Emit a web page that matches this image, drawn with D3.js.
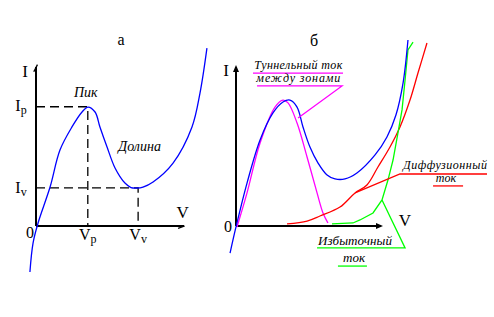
<!DOCTYPE html>
<html lang="ru">
<head>
<meta charset="UTF-8">
<title>ВАХ туннельного диода</title>
<script src="https://d3js.org/d3.v7.min.js"></script>
<style>
    body { margin: 0; background: #fff; }
</style>
</head>
<body>
<svg width="494" height="317"></svg>
<script>
// ---- панель "а": полная ВАХ (V, I в условных единицах) ----
const curveA_V = [-0.41, -0.20, 0.14, 0.95, 1.62, 2.43, 3.11, 3.51, 3.99, 4.32, 4.80, 5.34, 6.01, 6.42, 6.82, 7.23, 7.91, 9.26, 10.54, 11.08, 11.55];
const curveA_I = [-2.89, -1.07, 0.19, 2.45, 4.78, 6.23, 7.17, 7.48, 7.17, 6.23, 4.97, 3.65, 2.70, 2.42, 2.39, 2.45, 2.77, 3.96, 6.23, 8.36, 11.19];
const peak = { V: 3.5, I: 7.5 };
const valley = { V: 6.9, I: 2.4 };

// ---- панель "б": составляющие тока ----
const totalV = [-0.41, 0, 0.76, 1.66, 2.55, 3.24, 3.72, 4.21, 4.62, 5.10, 5.66, 6.28, 6.83, 7.52, 8.34, 9.59, 10.41, 11.03, 11.52, 11.86];
const totalI = [-1.70, -0.06, 2.70, 5.41, 7.11, 7.80, 7.92, 7.48, 6.23, 4.97, 3.96, 3.21, 2.96, 2.96, 3.33, 4.47, 5.60, 6.98, 8.99, 11.70];
const tunnelV = [0.07, 0.76, 1.66, 2.69, 3.24, 3.59, 4.21, 4.90, 5.59, 6.00, 6.34];
const tunnelI = [-0.06, 2.08, 5.22, 7.48, 7.92, 7.74, 6.48, 4.34, 2.08, 0.82, 0.19];
const diffV = [3.52, 4.90, 5.79, 7.17, 8.21, 9.03, 9.79, 10.62, 11.31, 12.0, 12.55, 13.17];
const diffI = [0.13, 0.31, 0.63, 1.19, 2.08, 2.58, 3.71, 4.97, 6.23, 7.92, 9.62, 11.51];
const excessV = [6.62, 8.07, 8.55, 9.45, 10.07, 10.48, 10.83, 11.17, 11.45, 11.66, 11.86, 12.21];
const excessI = [0.13, 0.19, 0.38, 0.82, 1.64, 2.89, 4.15, 5.85, 7.30, 9.18, 11.07, 11.57];

const FONT = "'Liberation Serif', 'DejaVu Serif', 'Times New Roman', serif";
const svg = d3.select("svg");
const zip = (xs, ys) => xs.map((x, i) => [x, ys[i]]);

// шкалы
const xA = d3.scaleLinear().domain([0, 10]).range([36, 184]);
const yA = d3.scaleLinear().domain([0, 10]).range([226, 67]);
const xB = d3.scaleLinear().domain([0, 10]).range([236, 381]);
const yB = d3.scaleLinear().domain([0, 10]).range([226, 67]);

function drawCurve(x, y, pts, color, curve) {
    svg.append("path")
        .attr("d", d3.line().x(d => x(d[0])).y(d => y(d[1])).curve(curve)(pts))
        .attr("fill", "none")
        .attr("stroke", color)
        .attr("stroke-width", 1.3);
}
function seg(x, y, pts, color, extra) {
    const p = svg.append("path")
        .attr("d", d3.line().x(d => x(d[0])).y(d => y(d[1]))(pts))
        .attr("fill", "none")
        .attr("stroke", color)
        .attr("stroke-width", 1.3);
    if (extra) extra(p);
    return p;
}
function label(x, y, txt, italic, size, anchor) {
    return svg.append("text")
        .attr("x", x).attr("y", y)
        .attr("font-family", FONT)
        .attr("font-style", italic ? "italic" : "normal")
        .attr("font-size", size || 15)
        .attr("text-anchor", anchor || "middle")
        .text(txt);
}
function sub(x, y, main, s, anchor) {
    const t = svg.append("text").attr("x", x).attr("y", y)
        .attr("font-family", FONT)
        .attr("font-size", 16).attr("text-anchor", anchor || "middle");
    t.append("tspan").text(main);
    t.append("tspan").attr("font-size", 12).attr("dy", 3).text(s);
    return t;
}

// ===== панель а =====
svg.append("line").attr("x1", xA(0)).attr("x2", xA(10)).attr("y1", yA(0)).attr("y2", yA(0))
    .attr("stroke", "#000").attr("stroke-width", 2);
svg.append("line").attr("x1", xA(0)).attr("x2", xA(0)).attr("y1", yA(0)).attr("y2", yA(10))
    .attr("stroke", "#000").attr("stroke-width", 2);
seg(xA, yA, [[-0.15, 9.7], [0.1, 10.15]], "#000");
seg(xA, yA, [[9.6, -0.15], [10.05, 0]], "#000");

// пунктир
const dash = p => p.attr("stroke-dasharray", "9,5");
seg(xA, yA, [[0, peak.I], [peak.V, peak.I], [peak.V, 0]], "#000", dash);
seg(xA, yA, [[0, valley.I], [valley.V, valley.I], [valley.V, 0]], "#000", dash);

drawCurve(xA, yA, zip(curveA_V, curveA_I), "#0000ff", d3.curveCatmullRom);

label(121, 45, "а", false, 16);
label(xA(0) - 11, 77, "I", false, 17);
label(xA(0) - 6, 238, "0", false, 16);
label(xA(9.9), 218, "V", false, 17);
sub(xA(0) - 15, yA(peak.I) + 4, "I", "p");
sub(xA(0) - 15, yA(valley.I) + 5, "I", "v");
sub(xA(peak.V), 240, "V", "p");
sub(xA(valley.V), 240, "V", "v");
label(xA(peak.V) - 2, 97, "Пик", true, 14);
label(xA(7.0), 151, "Долина", true, 14);

// ===== панель б =====
svg.append("line").attr("x1", xB(0)).attr("x2", xB(10)).attr("y1", yB(0)).attr("y2", yB(0))
    .attr("stroke", "#000").attr("stroke-width", 2);
svg.append("line").attr("x1", xB(0)).attr("x2", xB(0)).attr("y1", yB(0)).attr("y2", yB(10))
    .attr("stroke", "#000").attr("stroke-width", 2);
svg.append("path")
    .attr("d", `M${xB(10) + 2},${yB(0)} l-7,-3 l0,6 z`).attr("fill", "#000");
svg.append("path")
    .attr("d", `M${xB(0)},${yB(10) - 2} l-3,7 l6,0 z`).attr("fill", "#000");

drawCurve(xB, yB, zip(tunnelV, tunnelI), "#ff00ff", d3.curveCatmullRom);
drawCurve(xB, yB, zip(diffV, diffI), "#ff0000", d3.curveCatmullRom);
drawCurve(xB, yB, zip(excessV, excessI), "#00ff00", d3.curveLinear);
drawCurve(xB, yB, zip(totalV, totalI), "#0000ff", d3.curveCatmullRom);

label(314, 46, "б", false, 16);
label(xB(0) - 10, 76, "I", false, 17);
label(xB(0) - 8, 232, "0", false, 16);
label(405, 226, "V", false, 17);

// выноски
seg(xB, yB, [[1.17, 9.62], [7.38, 9.62]], "#ff00ff");
seg(xB, yB, [[1.45, 8.81], [7.31, 8.81], [4.28, 6.79]], "#ff00ff");
label(xB(4.3), 69, "Туннельный ток", true, 12).attr("textLength", 88);
label(xB(4.3), 82, "между зонами", true, 12).attr("textLength", 84);

seg(xB, yB, [[8.21, 2.08], [11.31, 3.27], [17.31, 3.27]], "#ff0000");
seg(xB, yB, [[13.59, 2.52], [15.66, 2.52]], "#ff0000");
label(445, 169, "Диффузионный", true, 12).attr("textLength", 84);
label(446, 182, "ток", true, 12);

seg(xB, yB, [[10.07, 1.64], [11.66, -1.38], [5.59, -1.38]], "#00ff00");
seg(xB, yB, [[7.03, -2.52], [9.03, -2.52]], "#00ff00");
label(355, 245, "Избыточный", true, 13).attr("textLength", 74);
label(354, 262, "ток", true, 13);
</script>
</body>
</html>
